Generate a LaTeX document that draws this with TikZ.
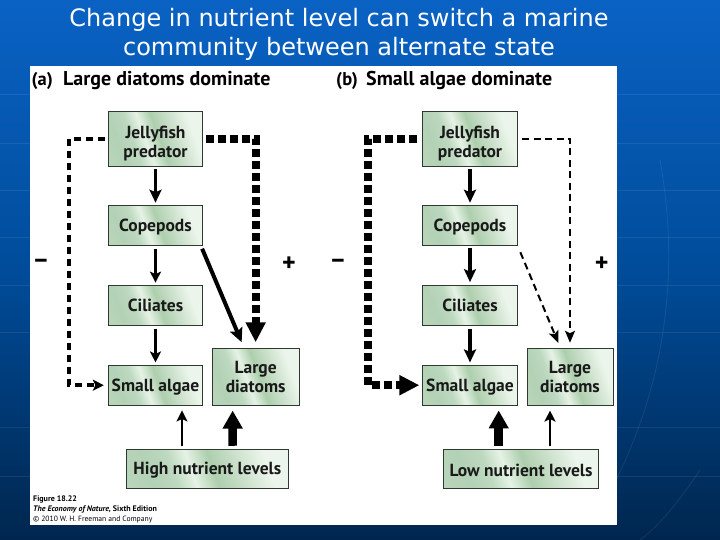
\documentclass[tikz,border=0pt]{standalone}
\usepackage{fontspec}
\setmainfont{PT Sans}
\newfontfamily\titlefont{DejaVu Sans}
\usetikzlibrary{arrows.meta,calc}
\definecolor{bgtop}{HTML}{0A62C4}
\definecolor{bgmid}{HTML}{004C9A}
\definecolor{bgbot}{HTML}{00264E}
\definecolor{boxedge}{HTML}{2E3A30}
\pgfdeclarehorizontalshading{boxshade}{100bp}{
  rgb(0bp)=(0.78,0.87,0.78);
  rgb(28bp)=(0.70,0.82,0.71);
  rgb(37bp)=(0.74,0.85,0.75);
  rgb(44bp)=(0.90,0.95,0.90);
  rgb(52bp)=(0.68,0.81,0.68);
  rgb(62bp)=(0.80,0.88,0.80);
  rgb(72bp)=(0.92,0.96,0.92);
  rgb(100bp)=(0.92,0.96,0.92)}
\newcommand{\lowertxt}[1]{\rule{0pt}{#1}}
\tikzset{
  x=1pt,y=-1pt,
  boxn/.style={draw=boxedge,line width=0.9pt,shading=boxshade,shading angle=20,inner sep=0pt,align=center,
    font=\fontsize{17.5}{19}\selectfont\bfseries,text=black!90},
  headtxt/.style={anchor=base west,inner sep=0pt,font=\fontsize{20}{22}\selectfont\bfseries},
  signtxt/.style={inner sep=0pt,font=\fontsize{26}{27}\selectfont\bfseries},
  foot/.style={anchor=base west,inner sep=0pt,font=\fontsize{8}{9}\selectfont},
  ttl/.style={inner sep=0pt,text=white,font=\titlefont\fontsize{24}{29}\selectfont,align=center},
  glow/.style={draw=white,opacity=0.08,line width=0.8pt},
  thinarrow/.style={line width=2.4pt,-{Stealth[length=11pt,width=11pt,inset=2.5pt]}},
  medarrow/.style={line width=4.4pt,-{Stealth[length=13pt,width=12pt,inset=2.5pt]}},
  fatarrow/.style={line width=8.5pt,-{Triangle[length=18pt,width=19pt]}},
  dashthin/.style={line width=2pt,dash pattern=on 7pt off 4.5pt},
  dashmid/.style={line width=3.8pt,dash pattern=on 7pt off 5pt},
  dashfat/.style={line width=8pt,dash pattern=on 8pt off 4pt},
}
\begin{document}
\begin{tikzpicture}
\useasboundingbox (0,0) rectangle (720,540);
% slide background
\shade[top color=bgtop,bottom color=bgbot,middle color=bgmid] (0,0) rectangle (720,540);
\foreach \yy in {94,143,190,237,285,332,427,476}{\draw[glow] (0,\yy) -- (720,\yy);}
\draw[glow] (660,160) .. controls (678,260) and (670,370) .. (617,478);
\draw[glow] (700,470) .. controls (680,500) and (660,525) .. (640,540);
% title
\node[ttl] (title) at (339,34.5) {Change in nutrient level can switch a marine\\community between alternate state};
% panel
\fill[white] (30,66) rectangle (617.3,525);
% panel headings
\node[headtxt,font=\fontsize{18.5}{22}\selectfont\bfseries] (ha) at (31.5,86) {(a)};
\node[headtxt] (hat) at (63,86) {Large diatoms dominate};
\node[headtxt,font=\fontsize{18.5}{22}\selectfont\bfseries] (hb) at (336,86) {(b)};
\node[headtxt] (hbt) at (366,86) {Small algae dominate};
% panel a boxes
\node[boxn,minimum width=94.4pt,minimum height=54.4pt] (ja) at (155.5,138.85) {\lowertxt{21pt}Jellyfish\\predator};
\node[boxn,minimum width=94.4pt,minimum height=39.6pt] (ca) at (155.5,225.5) {\lowertxt{15.5pt}Copepods};
\node[boxn,minimum width=94.4pt,minimum height=39.6pt] (ia) at (155.5,305.4) {Ciliates};
\node[boxn,minimum width=94.4pt,minimum height=39.6pt] (sa) at (155.5,385.2) {\lowertxt{15.5pt}Small algae};
\node[boxn,minimum width=86.7pt,minimum height=56.4pt] (da) at (255.65,376.9) {Large\\diatoms};
\node[boxn,minimum width=162pt,minimum height=38.6pt] (na) at (207.3,469) {\lowertxt{15.5pt}High nutrient levels};
% panel b boxes
\node[boxn,minimum width=94.4pt,minimum height=54.4pt] (jb) at (470,138.85) {\lowertxt{21pt}Jellyfish\\predator};
\node[boxn,minimum width=94.4pt,minimum height=39.6pt] (cb) at (470,225.5) {\lowertxt{15.5pt}Copepods};
\node[boxn,minimum width=94.4pt,minimum height=39.6pt] (ib) at (470,305.4) {Ciliates};
\node[boxn,minimum width=94.4pt,minimum height=39.6pt] (sb) at (470,385.2) {\lowertxt{15.5pt}Small algae};
\node[boxn,minimum width=86pt,minimum height=56.4pt] (db) at (570,376.9) {Large\\diatoms};
\node[boxn,minimum width=155.4pt,minimum height=38.6pt] (nb) at (521,469) {\lowertxt{15.5pt}Low nutrient levels};
% routing coordinates
\coordinate (la) at (69,138.85);
\coordinate (lb) at (367.7,138.85);
% panel a connectors
\draw[medarrow,line width=3.6pt] ([yshift=-3]ja.south) -- ([yshift=2.5]ca.north);
\draw[thinarrow] ([yshift=-3]ca.south) -- ([yshift=2.5]ia.north);
\draw[thinarrow] ([yshift=-3]ia.south) -- ([yshift=2.5]sa.north);
\draw[dashmid,-{Stealth[length=11pt,width=11pt,inset=2.5pt]},shorten <=3pt,shorten >=4pt] (ja.west) -- (la) -- (sa.west -| la) -- (sa.west);
\draw[dashfat,-{Triangle[length=20pt,width=19pt]},shorten <=3pt,shorten >=6pt] (ja.east) -| (da.north);
\draw[line width=4pt,-{Stealth[length=14pt,width=13pt,inset=2.5pt]}] ([shift={(-1,3)}]ca.south east) -- ([shift={(-14,-6)}]da.north);
\draw[thinarrow] ([shift={(-25.3,-3.5)}]na.north) -- ([shift={(26.5,5)}]sa.south);
\draw[fatarrow] ([shift={(25.4,-3.5)}]na.north) -- ([shift={(-23,5)}]da.south);
% panel b connectors
\draw[medarrow] ([yshift=-3]jb.south) -- ([yshift=2.5]cb.north);
\draw[medarrow] ([yshift=-2]cb.south) -- ([yshift=3]ib.north);
\draw[medarrow] ([yshift=-3]ib.south) -- ([yshift=2.5]sb.north);
\draw[dashfat,-{Triangle[length=20pt,width=19pt]},shorten <=5pt,shorten >=3pt] (jb.west) -- (lb) -- (sb.west -| lb) -- (sb.west);
\draw[dashthin,-{Stealth[length=12pt,width=10pt,inset=2.5pt]},shorten <=4.5pt,shorten >=5.5pt] (jb.east) -| (db.north);
\draw[dashthin,-{Stealth[length=12pt,width=10pt,inset=2.5pt]}] ([shift={(2.7,6.5)}]cb.south east) -- ([shift={(-11.7,-5.4)}]db.north);
\draw[fatarrow] ([shift={(-22.3,-3.5)}]nb.north) -- ([shift={(28.7,5)}]sb.south);
\draw[thinarrow] ([shift={(29,-3.5)}]nb.north) -- ([shift={(-20,5)}]db.south);
% signs
\node[signtxt] (ma) at (41,264.5) {\textminus};
\node[signtxt] (pa) at (289,264) {+};
\node[signtxt] (mb) at (338,264.5) {\textminus};
\node[signtxt] (pb) at (601.7,264) {+};
% footer
\node[foot] (f1) at (33,501) {\textbf{Figure 18.22}};
\node[foot] (f2) at (33,511) {\textbf{\textit{The Economy of Nature,} Sixth Edition}};
\node[foot,font=\fontsize{7.6}{9}\selectfont] (f3) at (33,521.5) {© 2010 W. H. Freeman and Company};
\end{tikzpicture}
\end{document}
